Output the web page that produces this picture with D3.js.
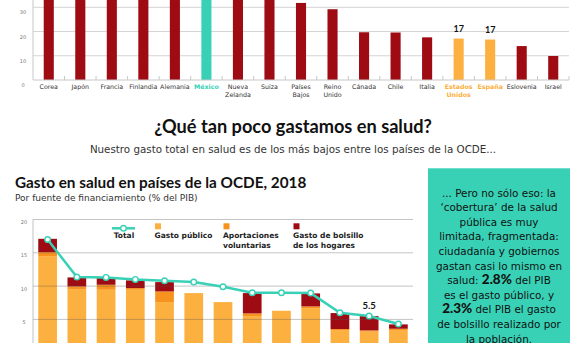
<!DOCTYPE html>
<html>
<head>
<meta charset="utf-8">
<script src="https://cdn.jsdelivr.net/npm/d3@7"></script>
<style>
  body { margin: 0; background: #fff; }
  svg { display: block; font-family: "DejaVu Sans", sans-serif; }
  .title { font-family: Lato, sans-serif; }
</style>
</head>
<body>
<div id="chart"></div>
<script>
// Top chart (cropped at the top in the reference)
var topCountries = ["Corea", "Japón", "Francia", "Finlandia", "Alemania", "México", "Nueva Zelanda", "Suiza",
  "Países Bajos", "Reino Unido", "Cánada", "Chile", "Italia", "Estados Unidos", "España", "Eslovenia", "Israel"];
var topValues = [45, 43, 41, 40, 38, 37, 35, 34, 31.8, 29.2, 19.7, 19.6, 17.6, 17.1, 16.7, 14.0, 9.9];
var topTicks = [0, 10, 20, 30];

// Bottom chart: gasto en salud por fuente (% del PIB)
var countries = ["Estados Unidos", "Alemania", "Francia", "Japón", "Canadá", "Suecia", "Reino Unido",
  "Chile", "Corea", "España", "Letonia", "México", "Turquía"];
var gastoPublico = [14.5, 9.55, 9.45, 9.45, 7.6, 8.95, 7.6, 5.5, 6.3, 6.7, 3.4, 3.15, 3.4];
var aportaciones = [0.6, 0.4, 0.75, 0.26, 1.6, 0, 0, 0.4, 0, 0.25, 0.15, 0.2, 0.2];
var bolsillo = [2.0, 1.35, 1.0, 1.15, 1.4, 0, 0, 3.05, 0, 1.95, 2.4, 2.15, 0.65];
var total = [17.0, 11.35, 11.3, 11.0, 10.8, 10.6, 9.9, 9.0, 9.0, 8.95, 6.0, 5.5, 4.3];
var bottomTicks = [5, 10, 15, 20];

var red = "#9e0b12", teal = "#38d1b6", yellow = "#fcb040", orange = "#f7921e";

var svg = d3.select("#chart").append("svg")
  .attr("width", 585)
  .attr("height", 343);

// ---------- top chart ----------
var xTop = d3.scaleBand()
  .domain(topCountries)
  .range([33, 569])
  .paddingInner(0.68)
  .paddingOuter(0.34);

var yTop = d3.scaleLinear()
  .domain([0, 30])
  .range([80, 7.3]);

var topChart = svg.append("g");

topChart.selectAll(".grid")
  .data(topTicks.slice(1))
  .enter().append("line")
  .attr("x1", 33).attr("x2", 569)
  .attr("y1", d => yTop(d)).attr("y2", d => yTop(d))
  .attr("stroke", "#d4d4d4").attr("stroke-width", 1);

topChart.selectAll(".ylab")
  .data(topTicks)
  .enter().append("text")
  .attr("x", 23).attr("y", d => yTop(d) + 7)
  .attr("text-anchor", "middle")
  .attr("font-size", 5)
  .attr("fill", "#777")
  .text(d => d);

function topColor(c) {
  if (c == "México") return teal;
  if (c == "Estados Unidos" || c == "España") return yellow;
  return red;
}

topChart.selectAll(".bar")
  .data(topCountries)
  .enter().append("rect")
  .attr("x", d => xTop(d))
  .attr("width", xTop.bandwidth())
  .attr("y", (d, i) => yTop(topValues[i]))
  .attr("height", (d, i) => yTop(0) - yTop(topValues[i]))
  .attr("fill", d => topColor(d));

// axis lines
topChart.append("line")
  .attr("x1", 33).attr("x2", 33).attr("y1", 0).attr("y2", yTop(0))
  .attr("stroke", "#c8c8c8");
topChart.append("line")
  .attr("x1", 33).attr("x2", 569).attr("y1", yTop(0)).attr("y2", yTop(0))
  .attr("stroke", "#c8c8c8");

var step = xTop.step();
topChart.selectAll(".tick")
  .data(topCountries)
  .enter().append("line")
  .attr("x1", d => xTop(d) + xTop.bandwidth() / 2 + step / 2)
  .attr("x2", d => xTop(d) + xTop.bandwidth() / 2 + step / 2)
  .attr("y1", yTop(0) - 4).attr("y2", yTop(0))
  .attr("stroke", "#c8c8c8");

// category labels, split in two lines
var xl = topChart.selectAll(".xlab")
  .data(topCountries)
  .enter().append("text")
  .attr("text-anchor", "middle")
  .attr("font-size", 6.3)
  .attr("font-weight", d => topColor(d) == red ? 400 : 700)
  .attr("fill", d => topColor(d) == red ? "#333" : topColor(d));

xl.each(function(d) {
  var words = d.split(" ");
  var cx = xTop(d) + xTop.bandwidth() / 2;
  d3.select(this).selectAll("tspan")
    .data(words)
    .enter().append("tspan")
    .attr("x", cx)
    .attr("y", (w, j) => 88.5 + j * 8.7)
    .text(w => w);
});

topChart.selectAll(".vlab")
  .data(["Estados Unidos", "España"])
  .enter().append("text")
  .attr("class", "title")
  .attr("x", d => xTop(d) + xTop.bandwidth() / 2)
  .attr("y", d => yTop(topValues[topCountries.indexOf(d)]) - 7)
  .attr("text-anchor", "middle")
  .attr("font-size", 9)
  .attr("font-weight", 700)
  .attr("fill", "#111")
  .text(d => Math.round(topValues[topCountries.indexOf(d)]));

// ---------- header ----------
svg.append("text")
  .attr("class", "title")
  .attr("x", 293).attr("y", 133.3)
  .attr("text-anchor", "middle")
  .attr("font-size", 18.2)
  .attr("font-weight", 700)
  .attr("fill", "#111")
  .text("¿Qué tan poco gastamos en salud?");

svg.append("text")
  .attr("x", 293).attr("y", 153.3)
  .attr("text-anchor", "middle")
  .attr("font-size", 10.3)
  .attr("fill", "#333")
  .text("Nuestro gasto total en salud es de los más bajos entre los países de la OCDE...");

// ---------- bottom chart ----------
svg.append("text")
  .attr("class", "title")
  .attr("x", 15).attr("y", 187.7)
  .attr("font-size", 15.3)
  .attr("font-weight", 700)
  .attr("fill", "#111")
  .text("Gasto en salud en países de la OCDE, 2018");

svg.append("text")
  .attr("x", 15).attr("y", 200.7)
  .attr("font-size", 9)
  .attr("fill", "#333")
  .text("Por fuente de financiamiento (% del PIB)");

var x = d3.scaleBand()
  .domain(countries)
  .range([33, 413])
  .paddingInner(0.36)
  .paddingOuter(0.18);

var y = d3.scaleLinear()
  .domain([0, 20])
  .range([352.7, 219.5]);

var rows = countries.map((c, i) => ({
  country: c,
  publico: gastoPublico[i],
  voluntario: aportaciones[i],
  bolsillo: bolsillo[i]
}));

var keys = ["publico", "voluntario", "bolsillo"];
var colors = { publico: yellow, voluntario: orange, bolsillo: red };
var stack = d3.stack().keys(keys)(rows);

var chart = svg.append("g");

chart.selectAll(".layer")
  .data(stack)
  .enter().append("g")
  .attr("fill", d => colors[d.key])
  .selectAll("rect")
  .data(d => d)
  .enter().append("rect")
  .attr("x", d => x(d.data.country))
  .attr("width", x.bandwidth())
  .attr("y", d => y(d[1]))
  .attr("height", d => y(d[0]) - y(d[1]));

// gridlines over the bars
chart.selectAll(".grid")
  .data(bottomTicks)
  .enter().append("line")
  .attr("x1", 33).attr("x2", 413)
  .attr("y1", d => y(d)).attr("y2", d => y(d))
  .attr("stroke", "#555").attr("stroke-opacity", 0.35);

chart.append("line")
  .attr("x1", 33).attr("x2", 33).attr("y1", y(20)).attr("y2", 343)
  .attr("stroke", "#999").attr("stroke-opacity", 0.6);

chart.selectAll(".ylab")
  .data(bottomTicks)
  .enter().append("text")
  .attr("x", 24).attr("y", d => y(d) + 4.5)
  .attr("text-anchor", "middle")
  .attr("font-size", 5)
  .attr("fill", "#777")
  .text(d => d);

// total line
var line = d3.line()
  .x((d, i) => x(countries[i]) + x.bandwidth() / 2)
  .y(d => y(d));

chart.append("path")
  .datum(total)
  .attr("d", line)
  .attr("fill", "none")
  .attr("stroke", teal)
  .attr("stroke-width", 2.5);

chart.selectAll(".dot")
  .data(total)
  .enter().append("circle")
  .attr("cx", (d, i) => x(countries[i]) + x.bandwidth() / 2)
  .attr("cy", d => y(d))
  .attr("r", 2.8)
  .attr("fill", "#fff")
  .attr("stroke", teal)
  .attr("stroke-width", 1.4);

chart.append("text")
  .attr("class", "title")
  .attr("x", x("México") + x.bandwidth() / 2)
  .attr("y", y(total[countries.indexOf("México")]) - 7.5)
  .attr("text-anchor", "middle")
  .attr("font-size", 9.5)
  .attr("font-weight", 700)
  .attr("fill", "#111")
  .text(total[countries.indexOf("México")]);

// legend
var lg = chart.append("g").attr("font-size", 7.5).attr("font-weight", 700).attr("fill", "#222");
lg.append("line")
  .attr("x1", 112).attr("x2", 135).attr("y1", 228.3).attr("y2", 228.3)
  .attr("stroke", teal).attr("stroke-width", 2.5);
lg.append("circle")
  .attr("cx", 123.5).attr("cy", 228.3).attr("r", 2.8)
  .attr("fill", "#fff").attr("stroke", teal).attr("stroke-width", 1.4);
lg.append("text").attr("x", 124).attr("y", 237.7).attr("text-anchor", "middle").text("Total");

var legendItems = [
  { key: "publico", x: 155, lines: ["Gasto público"] },
  { key: "voluntario", x: 223.5, lines: ["Aportaciones", "voluntarias"] },
  { key: "bolsillo", x: 293.5, lines: ["Gasto de bolsillo", "de los hogares"] }
];
legendItems.forEach(function(it) {
  lg.append("rect")
    .attr("x", it.x).attr("y", 223.3)
    .attr("width", 6).attr("height", 6)
    .attr("fill", colors[it.key]);
  it.lines.forEach(function(t, j) {
    lg.append("text").attr("x", it.x - 0.5).attr("y", 237.7 + j * 10).text(t);
  });
});

// ---------- note box ----------
svg.append("rect")
  .attr("x", 428).attr("y", 168.3)
  .attr("width", 142).attr("height", 180)
  .attr("fill", teal);

var note = [
  [["... Pero no sólo eso: la", 0]],
  [["‘cobertura’ de la salud", 0]],
  [["pública es muy", 0]],
  [["limitada, fragmentada:", 0]],
  [["ciudadanía y gobiernos", 0]],
  [["gastan casi lo mismo en", 0]],
  [["salud: ", 0], ["2.8%", 1], [" del PIB", 0]],
  [["es el gasto público, y", 0]],
  [["2.3%", 1], [" del PIB el gasto", 0]],
  [["de bolsillo realizado por", 0]],
  [["la población.", 0]]
];

var noteText = svg.append("g")
  .attr("font-size", 10.4)
  .attr("fill", "#111")
  .attr("text-anchor", "middle");

note.forEach(function(parts, i) {
  var t = noteText.append("text")
    .attr("x", 499).attr("y", 196.5 + i * 14.6);
  parts.forEach(function(p) {
    t.append("tspan")
      .attr("class", p[1] ? "title" : null)
      .attr("font-weight", p[1] ? 900 : 400)
      .attr("font-size", p[1] ? 13.5 : 10.4)
      .text(p[0]);
  });
});
</script>
</body>
</html>
